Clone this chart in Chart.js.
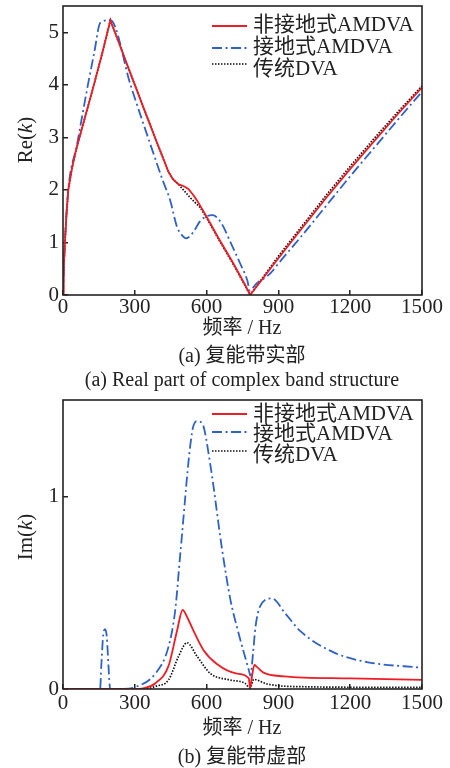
<!DOCTYPE html>
<html>
<head>
<meta charset="utf-8">
<script src="https://cdn.jsdelivr.net/npm/chart.js@4.4.1/dist/chart.umd.min.js"></script>
<style>
  html, body { margin: 0; padding: 0; background: #fff; width: 450px; height: 768px; overflow: hidden; }
  canvas { position: absolute; left: 0; }
  .txt {
    position: absolute; color: #222; white-space: nowrap; line-height: 1;
    font-family: "Liberation Serif", "Noto Sans CJK SC", serif; font-size: 20px;
    transform: translate(-50%, -50%);
  }
  .rot { transform: translate(-50%, -50%) rotate(-90deg); }
</style>
</head>
<body>
<canvas id="reChart" width="450" height="340" style="top:0"></canvas>
<canvas id="imChart" width="450" height="350" style="top:390px"></canvas>

<div class="txt rot" style="left:25px;top:140px;font-size:21px">Re(<i>k</i>)</div>
<div class="txt" style="left:242px;top:327px">频率 / Hz</div>
<div class="txt" style="left:242px;top:355px">(a) 复能带实部</div>
<div class="txt" style="left:242px;top:379px">(a) Real part of complex band structure</div>

<div class="txt rot" style="left:25px;top:537px;font-size:21px">Im(<i>k</i>)</div>
<div class="txt" style="left:242px;top:727px">频率 / Hz</div>
<div class="txt" style="left:242px;top:756px">(b) 复能带虚部</div>

<script>
// series names
const seriesNames = ['非接地式AMDVA', '接地式AMDVA', '传统DVA'];

// shared ticks
const freqTicks = [0, 300, 600, 900, 1200, 1500];
const reTicks = [0, 1, 2, 3, 4, 5];
const imTicks = [0, 1];

// Re(k), non-grounded AMDVA
const reFreq1 = [0, 3, 8, 14, 22, 37, 54, 90, 128, 165, 198, 300, 384, 441, 460, 482, 505, 524, 545, 560, 600, 650, 712, 760, 782, 900, 1000, 1100, 1200, 1300, 1400, 1500];
const reVal1  = [0, 0.5, 1.0, 1.5, 2.0, 2.4, 2.75, 3.35, 3.98, 4.62, 5.23, 4.0, 3.0, 2.34, 2.2, 2.11, 2.07, 2.02, 1.9, 1.8, 1.49, 1.08, 0.6, 0.2, 0, 0.7, 1.28, 1.85, 2.4, 2.93, 3.45, 3.95];

// Re(k), grounded AMDVA
const reFreq2 = [0, 8, 22, 58, 100, 130, 156, 198, 282, 370, 416, 448, 476, 495, 515, 545, 572, 600, 625, 660, 700, 740, 770, 781, 790, 805, 820, 845, 870, 900, 1000, 1100, 1200, 1300, 1400, 1500];
const reVal2  = [0, 1.0, 2.0, 2.85, 3.9, 4.6, 5.18, 5.23, 4.0, 2.8, 2.19, 1.8, 1.3, 1.15, 1.08, 1.2, 1.4, 1.5, 1.52, 1.38, 1.0, 0.6, 0.28, 0.08, 0.12, 0.2, 0.26, 0.33, 0.43, 0.6, 1.14, 1.7, 2.26, 2.8, 3.34, 3.87];

// Re(k), conventional DVA
const reFreq3 = [0, 3, 8, 14, 22, 37, 54, 90, 128, 165, 198, 300, 384, 441, 460, 482, 530, 574, 601, 650, 712, 782, 900, 1000, 1100, 1200, 1300, 1400, 1500];
const reVal3  = [0, 0.5, 1.0, 1.5, 2.0, 2.4, 2.75, 3.35, 3.98, 4.62, 5.23, 4.0, 3.0, 2.34, 2.2, 2.11, 1.86, 1.66, 1.46, 1.06, 0.58, 0, 0.74, 1.32, 1.9, 2.45, 2.98, 3.49, 3.98];

// Im(k), non-grounded AMDVA
const imFreq1 = [0, 300, 340, 386, 441, 476, 500, 520, 546, 588, 643, 727, 776, 782, 790, 800, 810, 838, 922, 1200, 1500];
const imVal1  = [0, 0, 0.005, 0.03, 0.12, 0.3, 0.41, 0.37, 0.3, 0.2, 0.13, 0.08, 0.055, 0.005, 0.07, 0.125, 0.115, 0.085, 0.066, 0.055, 0.047];

// Im(k), grounded AMDVA
const imFreq2 = [0, 155, 160, 168, 176, 183, 190, 197, 250, 302, 386, 441, 469, 490, 539, 560, 581, 616, 664, 700, 727, 776, 783, 795, 804, 824, 873, 930, 992, 1131, 1270, 1500];
const imVal2  = [0, 0, 0.12, 0.28, 0.31, 0.27, 0.12, 0, 0, 0.01, 0.08, 0.22, 0.41, 0.7, 1.33, 1.39, 1.38, 1.16, 0.73, 0.46, 0.32, 0.1, 0.07, 0.2, 0.32, 0.43, 0.47, 0.39, 0.3, 0.19, 0.14, 0.11];

// Im(k), conventional DVA
const imFreq3 = [0, 340, 390, 441, 483, 518, 560, 616, 699, 760, 782, 797, 852, 992, 1500];
const imVal3  = [0, 0, 0.015, 0.047, 0.17, 0.24, 0.17, 0.08, 0.047, 0.03, 0.005, 0.05, 0.026, 0.012, 0.008];

const FONT = '"Liberation Serif", "Noto Sans CJK SC", serif';

function pts(xs, ys) {
  return xs.map((x, i) => ({ x, y: ys[i] }));
}

// straight segments for Re(k) red/black (sharp peak), smooth otherwise
function makeDatasets(f1, v1, f2, v2, f3, v3, straight) {
  const mode = straight ? 'default' : 'monotone';
  return [
    {
      label: seriesNames[0], data: pts(f1, v1),
      borderColor: '#ee1c24', borderWidth: 1.8, pointRadius: 0,
      tension: 0, cubicInterpolationMode: mode
    },
    {
      label: seriesNames[1], data: pts(f2, v2),
      borderColor: '#2f62c4', borderWidth: 1.8, borderDash: [10, 3.5, 2, 3.5],
      pointRadius: 0, cubicInterpolationMode: 'monotone'
    },
    {
      label: seriesNames[2], data: pts(f3, v3),
      borderColor: '#111', borderWidth: 1.7, borderDash: [1.5, 1.5],
      pointRadius: 0, tension: 0, cubicInterpolationMode: mode
    }
  ];
}

// frame box + legend drawn inside the plot
const frameLegend = {
  id: 'frameLegend',
  afterDatasetsDraw(chart, args, opts) {
    const { ctx, chartArea: a } = chart;
    ctx.save();
    ctx.strokeStyle = '#222';
    ctx.lineWidth = 1.6;
    ctx.strokeRect(a.left, a.top, a.right - a.left, a.bottom - a.top);

    ctx.font = '21px ' + FONT;
    ctx.textBaseline = 'middle';
    chart.data.datasets.forEach((ds, i) => {
      ctx.beginPath();
      ctx.setLineDash(ds.borderDash || []);
      ctx.strokeStyle = ds.borderColor;
      ctx.lineWidth = ds.borderWidth;
      ctx.moveTo(opts.x0, opts.lineY[i]);
      ctx.lineTo(opts.x1, opts.lineY[i]);
      ctx.stroke();
      ctx.setLineDash([]);
      ctx.fillStyle = '#222';
      ctx.fillText(ds.label, opts.tx, opts.textY[i]);
    });
    ctx.restore();
  }
};

function axisCommon(pad) {
  return {
    grid: { display: true, drawOnChartArea: false, drawTicks: true, tickLength: -5, color: '#222', lineWidth: 1.5 },
    border: { display: false },
    ticks: {
      font: { family: FONT, size: 21 }, color: '#222', padding: pad,
      maxRotation: 0, autoSkip: false, callback: v => String(v)
    }
  };
}

function makeChart(id, datasets, yMax, yTickList, xAxisH, topPad, xPad, legend) {
  new Chart(document.getElementById(id), {
    type: 'line',
    data: { datasets },
    plugins: [frameLegend],
    options: {
      responsive: false,
      animation: false,
      layout: { padding: { left: 0, right: 28, top: topPad, bottom: 0 } },
      plugins: {
        legend: { display: false },
        tooltip: { enabled: false },
        frameLegend: legend
      },
      scales: {
        x: Object.assign(axisCommon(xPad), {
          type: 'linear', min: 0, max: 1500,
          afterBuildTicks: s => { s.ticks = freqTicks.map(v => ({ value: v })); },
          afterFit: s => { s.height = xAxisH; s.paddingLeft = 0; s.paddingRight = 0; }
        }),
        y: Object.assign(axisCommon(9), {
          type: 'linear', min: 0, max: yMax,
          afterBuildTicks: s => { s.ticks = yTickList.map(v => ({ value: v })); },
          afterFit: s => { s.width = 63; s.paddingTop = 0; s.paddingBottom = 0; }
        })
      }
    }
  });
}

makeChart('reChart',
  makeDatasets(reFreq1, reVal1, reFreq2, reVal2, reFreq3, reVal3, true),
  5.5, reTicks, 45, 6, 5,
  { x0: 212, x1: 247, tx: 253, lineY: [26, 48, 64], textY: [25, 47, 69] });

makeChart('imChart',
  makeDatasets(imFreq1, imVal1, imFreq2, imVal2, imFreq3, imVal3, false),
  1.5, imTicks, 51, 10, 7,
  { x0: 212, x1: 247, tx: 253, lineY: [24, 42, 61], textY: [24, 44, 65] });
</script>
</body>
</html>
